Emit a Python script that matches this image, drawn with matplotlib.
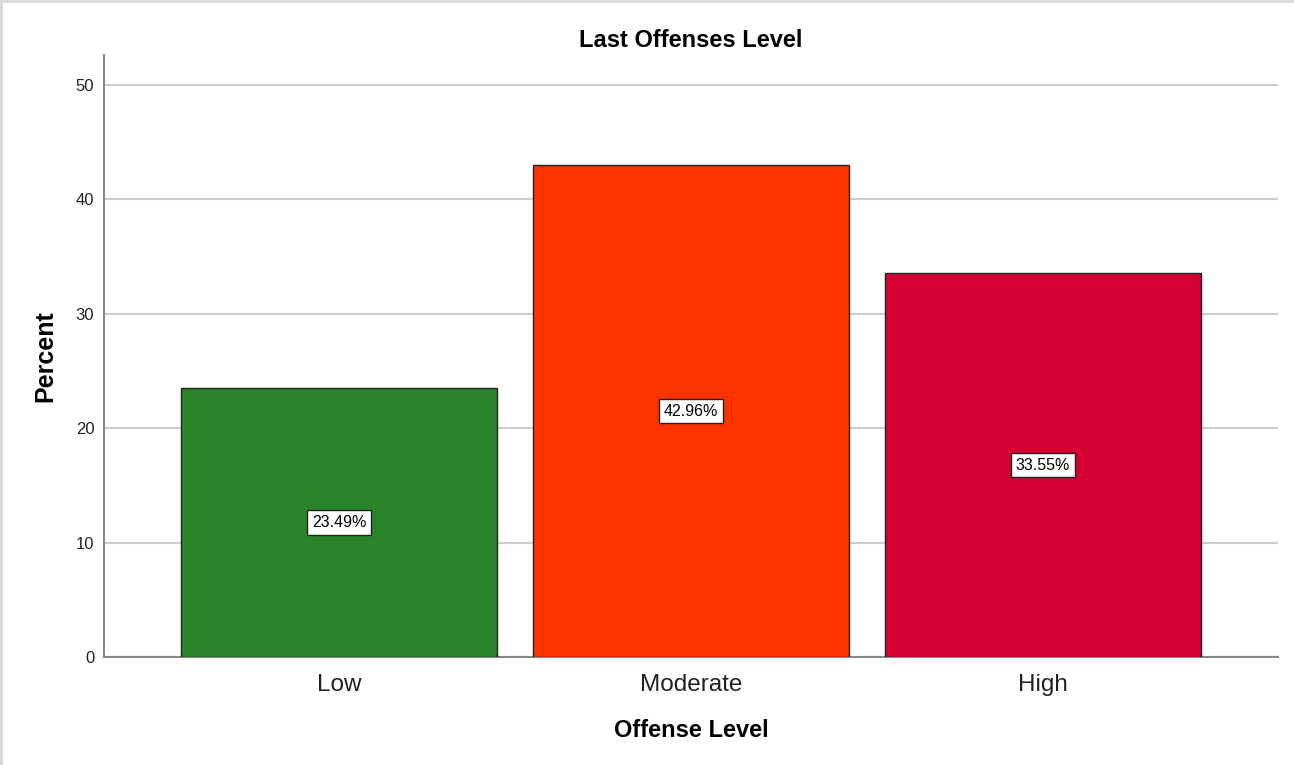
import matplotlib
matplotlib.use("Agg")
import numpy as np
from matplotlib import pyplot as plt
from matplotlib.patches import Rectangle

categories = ["Low", "Moderate", "High"]
percents = [23.49, 42.96, 33.55]
bar_colors = ["#2a852a", "#ff3300", "#d70032"]
y_ticks = [0, 10, 20, 30, 40, 50]

plt.rcParams["font.family"] = ["Liberation Sans", "DejaVu Sans"]

fig = plt.figure(figsize=(12.94, 7.65), dpi=100)
fig.patch.set_facecolor("white")

# light grey frame on top and left like the SPSS output viewer
fig.patches.append(Rectangle((0, 0), 3 / 1294, 1, transform=fig.transFigure,
                             facecolor="#d9d9d9", edgecolor="none"))
fig.patches.append(Rectangle((0, 1 - 3 / 765), 1, 3 / 765, transform=fig.transFigure,
                             facecolor="#d9d9d9", edgecolor="none"))

ax = fig.add_axes([104 / 1294, 108 / 765, 1174 / 1294, 602 / 765])

x = np.arange(len(categories))
bars = ax.bar(x, percents, width=316 / 352, color=bar_colors,
              edgecolor="#222222", linewidth=1.0, zorder=3)

for xi, val in zip(x, percents):
    ax.text(xi, val / 2, f"{val:.2f}%", ha="center", va="center", fontsize=11.5,
            zorder=4,
            bbox=dict(boxstyle="square,pad=0.3", facecolor="white",
                      edgecolor="#222222", linewidth=1.0))

ax.set_xlim(-0.668, 2.668)
ax.set_ylim(0, 52.6)
ax.set_yticks(y_ticks)
ax.set_xticks(x)
ax.set_xticklabels(categories)
ax.yaxis.grid(True, color="#cccccc", linewidth=1.5, zorder=0)
ax.set_axisbelow(True)

for side in ["top", "right"]:
    ax.spines[side].set_visible(False)
ax.spines["left"].set_color("#888888")
ax.spines["bottom"].set_color("#888888")
ax.spines["left"].set_linewidth(1.5)
ax.spines["bottom"].set_linewidth(1.5)

ax.tick_params(axis="y", length=0, pad=7, labelsize=12, labelcolor="#222222")
ax.tick_params(axis="x", length=0, pad=12, labelsize=17.5, labelcolor="#222222")

ax.set_title("Last Offenses Level", fontsize=17, fontweight="bold", pad=6)
ax.set_ylabel("Percent", fontsize=18, fontweight="bold", labelpad=13)
ax.set_xlabel("Offense Level", fontsize=17, fontweight="bold", labelpad=17)

fig.savefig("out.png", dpi=100)
